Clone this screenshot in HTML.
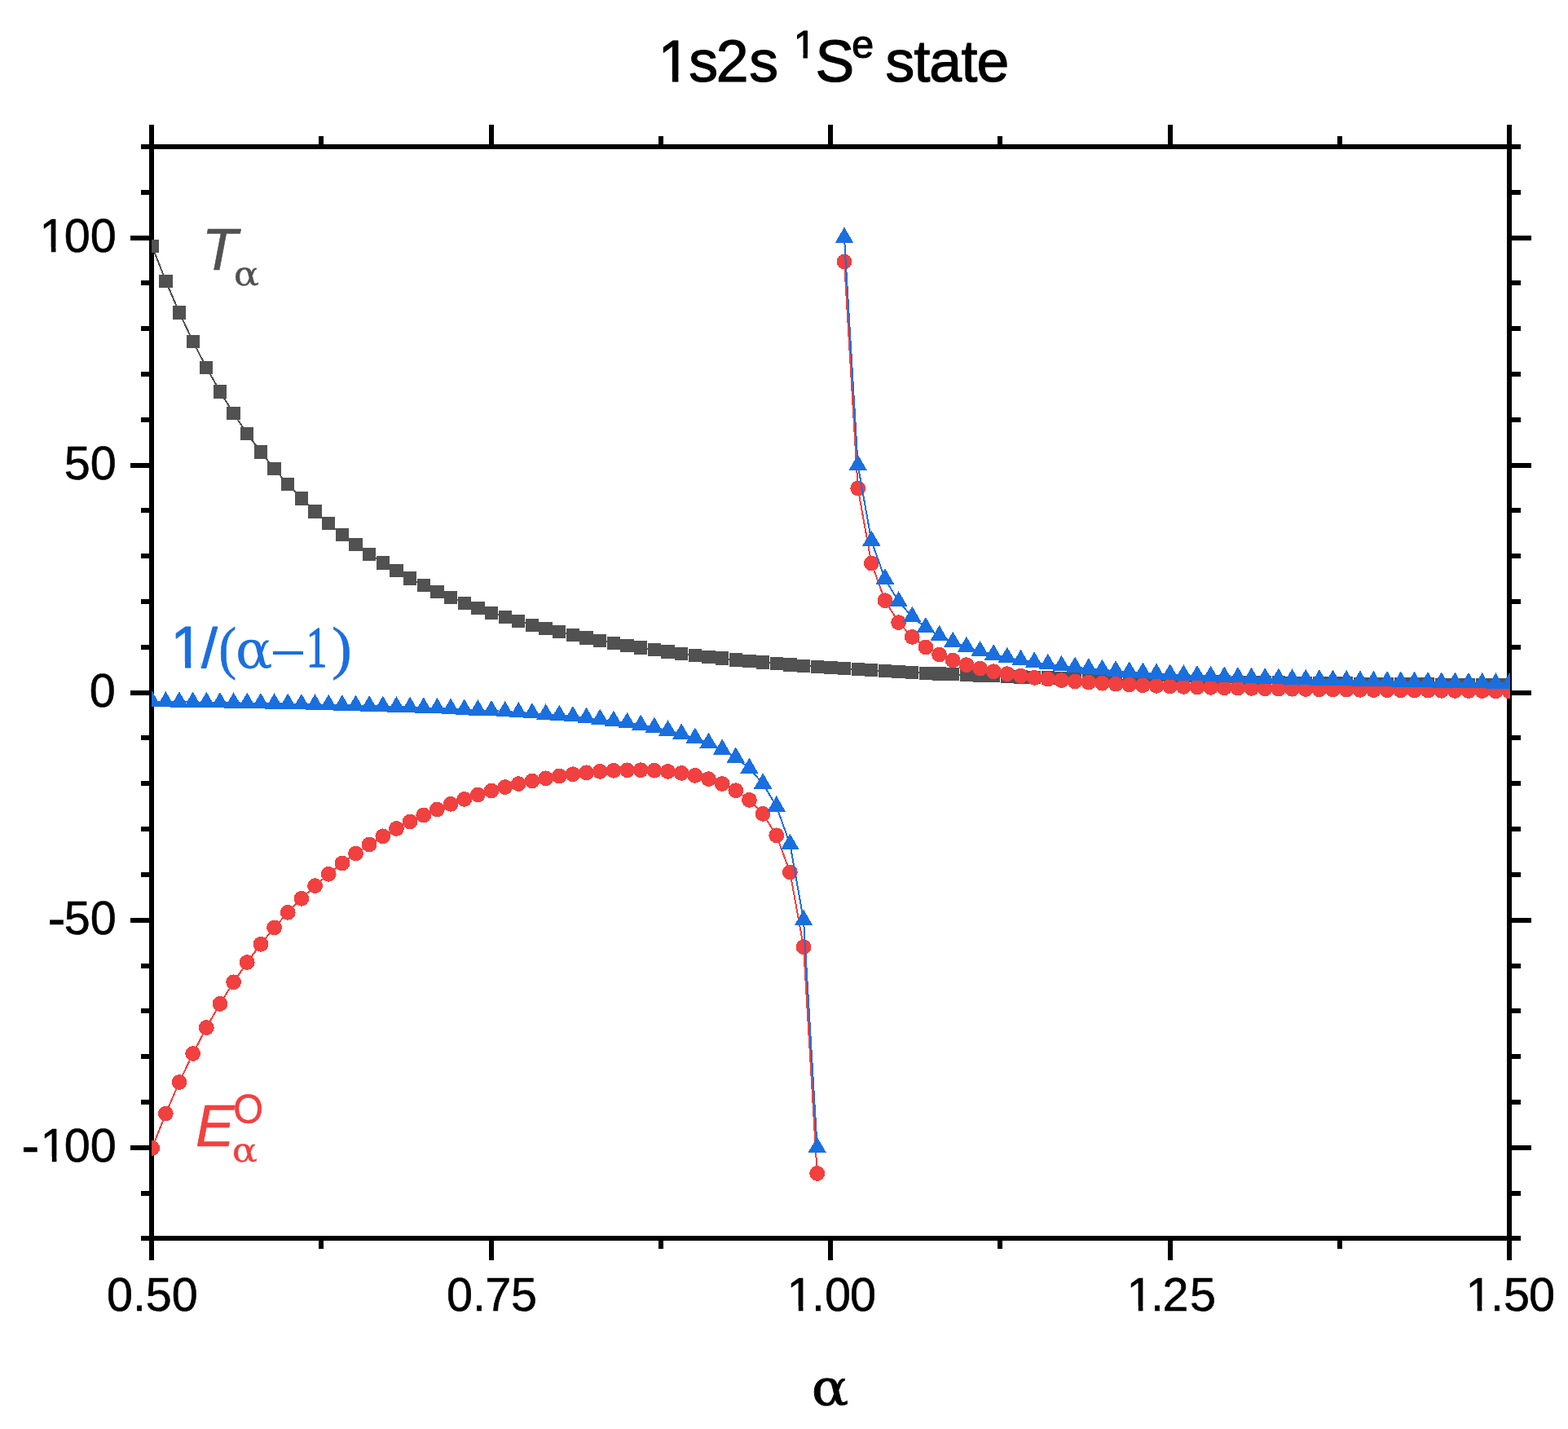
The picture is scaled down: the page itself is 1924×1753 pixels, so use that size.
<!DOCTYPE html>
<html lang="en"><head><meta charset="utf-8"><title>1s2s 1Se state</title>
<style>html,body{margin:0;padding:0;background:#fff}body{width:1924px;height:1753px;overflow:hidden}svg{display:block}text{font-family:"Liberation Sans",sans-serif;stroke-linejoin:round}.se{font-family:"Liberation Serif",serif}.gk{font-family:"DejaVu Serif","Liberation Serif",serif}.it{font-style:italic}</style></head><body>
<svg width="1924" height="1753" viewBox="0 0 1924 1753" role="img" aria-label="1s2s 1Se state">
<rect width="1924" height="1753" fill="#fff"/>
<defs><clipPath id="c"><rect x="186" y="177" width="1667" height="1345"/></clipPath></defs>
<g fill="#000" shape-rendering="crispEdges">
<rect x="183" y="153" width="6" height="1393"/>
<rect x="1849" y="153" width="6" height="1393"/>
<rect x="173" y="177" width="1693" height="6"/>
<rect x="173" y="1516" width="1693" height="6"/>
<rect x="173" y="177" width="13" height="6"/>
<rect x="1852" y="177" width="14" height="6"/>
<rect x="173" y="233" width="13" height="6"/>
<rect x="1852" y="233" width="14" height="6"/>
<rect x="160" y="289" width="26" height="6"/>
<rect x="1852" y="289" width="27" height="6"/>
<rect x="173" y="344" width="13" height="6"/>
<rect x="1852" y="344" width="14" height="6"/>
<rect x="173" y="400" width="13" height="6"/>
<rect x="1852" y="400" width="14" height="6"/>
<rect x="173" y="456" width="13" height="6"/>
<rect x="1852" y="456" width="14" height="6"/>
<rect x="173" y="512" width="13" height="6"/>
<rect x="1852" y="512" width="14" height="6"/>
<rect x="160" y="568" width="26" height="6"/>
<rect x="1852" y="568" width="27" height="6"/>
<rect x="173" y="623" width="13" height="6"/>
<rect x="1852" y="623" width="14" height="6"/>
<rect x="173" y="679" width="13" height="6"/>
<rect x="1852" y="679" width="14" height="6"/>
<rect x="173" y="735" width="13" height="6"/>
<rect x="1852" y="735" width="14" height="6"/>
<rect x="173" y="791" width="13" height="6"/>
<rect x="1852" y="791" width="14" height="6"/>
<rect x="160" y="847" width="26" height="6"/>
<rect x="1852" y="847" width="27" height="6"/>
<rect x="173" y="902" width="13" height="6"/>
<rect x="1852" y="902" width="14" height="6"/>
<rect x="173" y="958" width="13" height="6"/>
<rect x="1852" y="958" width="14" height="6"/>
<rect x="173" y="1014" width="13" height="6"/>
<rect x="1852" y="1014" width="14" height="6"/>
<rect x="173" y="1070" width="13" height="6"/>
<rect x="1852" y="1070" width="14" height="6"/>
<rect x="160" y="1126" width="26" height="6"/>
<rect x="1852" y="1126" width="27" height="6"/>
<rect x="173" y="1182" width="13" height="6"/>
<rect x="1852" y="1182" width="14" height="6"/>
<rect x="173" y="1237" width="13" height="6"/>
<rect x="1852" y="1237" width="14" height="6"/>
<rect x="173" y="1293" width="13" height="6"/>
<rect x="1852" y="1293" width="14" height="6"/>
<rect x="173" y="1349" width="13" height="6"/>
<rect x="1852" y="1349" width="14" height="6"/>
<rect x="160" y="1405" width="26" height="6"/>
<rect x="1852" y="1405" width="27" height="6"/>
<rect x="173" y="1461" width="13" height="6"/>
<rect x="1852" y="1461" width="14" height="6"/>
<rect x="173" y="1516" width="13" height="6"/>
<rect x="1852" y="1516" width="14" height="6"/>
<rect x="183" y="153" width="6" height="27"/>
<rect x="183" y="1519" width="6" height="27"/>
<rect x="391" y="167" width="6" height="13"/>
<rect x="391" y="1519" width="6" height="13"/>
<rect x="600" y="153" width="6" height="27"/>
<rect x="600" y="1519" width="6" height="27"/>
<rect x="808" y="167" width="6" height="13"/>
<rect x="808" y="1519" width="6" height="13"/>
<rect x="1016" y="153" width="6" height="27"/>
<rect x="1016" y="1519" width="6" height="27"/>
<rect x="1224" y="167" width="6" height="13"/>
<rect x="1224" y="1519" width="6" height="13"/>
<rect x="1433" y="153" width="6" height="27"/>
<rect x="1433" y="1519" width="6" height="27"/>
<rect x="1641" y="167" width="6" height="13"/>
<rect x="1641" y="1519" width="6" height="13"/>
<rect x="1849" y="153" width="6" height="27"/>
<rect x="1849" y="1519" width="6" height="27"/>
</g>
<g clip-path="url(#c)" shape-rendering="crispEdges">
<polyline fill="none" stroke="#515151" stroke-width="2.0" points="186.7,302.08 203.35,344.67 220.01,383.42 236.66,418.74 253.31,450.95 269.97,480.36 286.62,507.25 303.27,531.85 319.92,554.38 336.58,575.04 353.23,594 369.88,611.42 386.54,627.44 403.19,642.18 419.84,655.75 436.5,668.26 453.15,679.81 469.8,690.47 486.45,700.32 503.11,709.44 519.76,717.87 536.41,725.69 553.07,732.93 569.72,739.65 586.37,745.89 603.02,751.69 619.68,757.08 636.33,762.1 652.98,766.78 669.64,771.13 686.29,775.19 702.94,778.98 719.6,782.52 736.25,785.83 752.9,788.93 769.55,791.82 786.21,794.54 802.86,797.08 819.51,799.47 836.17,801.7 852.82,803.81 869.47,805.78 886.13,807.64 902.78,809.39 919.43,811.04 936.08,812.59 952.74,814.05 969.39,815.44 986.04,816.74 1002.7,817.97 1019.35,819.14 1036,820.24 1052.66,821.29 1069.31,822.28 1085.96,823.21 1102.62,824.1 1119.27,824.95 1135.92,825.75 1152.57,826.51 1169.23,827.24 1185.88,827.92 1202.53,828.58 1219.19,829.2 1235.84,829.8 1252.49,830.37 1269.14,830.91 1285.8,831.42 1302.45,831.92 1319.1,832.39 1335.76,832.84 1352.41,833.27 1369.06,833.68 1385.72,834.07 1402.37,834.45 1419.02,834.81 1435.67,835.16 1452.33,835.49 1468.98,835.8 1485.63,836.11 1502.29,836.4 1518.94,836.68 1535.59,836.94 1552.25,837.2 1568.9,837.44 1585.55,837.68 1602.21,837.91 1618.86,838.12 1635.51,838.33 1652.16,838.53 1668.82,838.72 1685.47,838.9 1702.12,839.08 1718.78,839.25 1735.43,839.41 1752.08,839.56 1768.73,839.71 1785.39,839.85 1802.04,839.99 1818.69,840.12 1835.35,840.25 1852,840.37"/>
<g fill="#515151">
<rect x="178.55" y="293.93" width="16.3" height="16.3"/>
<rect x="195.2" y="336.52" width="16.3" height="16.3"/>
<rect x="211.86" y="375.27" width="16.3" height="16.3"/>
<rect x="228.51" y="410.59" width="16.3" height="16.3"/>
<rect x="245.16" y="442.8" width="16.3" height="16.3"/>
<rect x="261.82" y="472.21" width="16.3" height="16.3"/>
<rect x="278.47" y="499.1" width="16.3" height="16.3"/>
<rect x="295.12" y="523.7" width="16.3" height="16.3"/>
<rect x="311.77" y="546.23" width="16.3" height="16.3"/>
<rect x="328.43" y="566.89" width="16.3" height="16.3"/>
<rect x="345.08" y="585.85" width="16.3" height="16.3"/>
<rect x="361.73" y="603.27" width="16.3" height="16.3"/>
<rect x="378.39" y="619.29" width="16.3" height="16.3"/>
<rect x="395.04" y="634.03" width="16.3" height="16.3"/>
<rect x="411.69" y="647.6" width="16.3" height="16.3"/>
<rect x="428.35" y="660.11" width="16.3" height="16.3"/>
<rect x="445" y="671.66" width="16.3" height="16.3"/>
<rect x="461.65" y="682.32" width="16.3" height="16.3"/>
<rect x="478.3" y="692.17" width="16.3" height="16.3"/>
<rect x="494.96" y="701.29" width="16.3" height="16.3"/>
<rect x="511.61" y="709.72" width="16.3" height="16.3"/>
<rect x="528.26" y="717.54" width="16.3" height="16.3"/>
<rect x="544.92" y="724.78" width="16.3" height="16.3"/>
<rect x="561.57" y="731.5" width="16.3" height="16.3"/>
<rect x="578.22" y="737.74" width="16.3" height="16.3"/>
<rect x="594.88" y="743.54" width="16.3" height="16.3"/>
<rect x="611.53" y="748.93" width="16.3" height="16.3"/>
<rect x="628.18" y="753.95" width="16.3" height="16.3"/>
<rect x="644.83" y="758.63" width="16.3" height="16.3"/>
<rect x="661.49" y="762.98" width="16.3" height="16.3"/>
<rect x="678.14" y="767.04" width="16.3" height="16.3"/>
<rect x="694.79" y="770.83" width="16.3" height="16.3"/>
<rect x="711.45" y="774.37" width="16.3" height="16.3"/>
<rect x="728.1" y="777.68" width="16.3" height="16.3"/>
<rect x="744.75" y="780.78" width="16.3" height="16.3"/>
<rect x="761.4" y="783.67" width="16.3" height="16.3"/>
<rect x="778.06" y="786.39" width="16.3" height="16.3"/>
<rect x="794.71" y="788.93" width="16.3" height="16.3"/>
<rect x="811.36" y="791.32" width="16.3" height="16.3"/>
<rect x="828.02" y="793.55" width="16.3" height="16.3"/>
<rect x="844.67" y="795.66" width="16.3" height="16.3"/>
<rect x="861.32" y="797.63" width="16.3" height="16.3"/>
<rect x="877.98" y="799.49" width="16.3" height="16.3"/>
<rect x="894.63" y="801.24" width="16.3" height="16.3"/>
<rect x="911.28" y="802.89" width="16.3" height="16.3"/>
<rect x="927.93" y="804.44" width="16.3" height="16.3"/>
<rect x="944.59" y="805.9" width="16.3" height="16.3"/>
<rect x="961.24" y="807.29" width="16.3" height="16.3"/>
<rect x="977.89" y="808.59" width="16.3" height="16.3"/>
<rect x="994.55" y="809.82" width="16.3" height="16.3"/>
<rect x="1011.2" y="810.99" width="16.3" height="16.3"/>
<rect x="1027.85" y="812.09" width="16.3" height="16.3"/>
<rect x="1044.51" y="813.14" width="16.3" height="16.3"/>
<rect x="1061.16" y="814.13" width="16.3" height="16.3"/>
<rect x="1077.81" y="815.06" width="16.3" height="16.3"/>
<rect x="1094.46" y="815.95" width="16.3" height="16.3"/>
<rect x="1111.12" y="816.8" width="16.3" height="16.3"/>
<rect x="1127.77" y="817.6" width="16.3" height="16.3"/>
<rect x="1144.42" y="818.36" width="16.3" height="16.3"/>
<rect x="1161.08" y="819.09" width="16.3" height="16.3"/>
<rect x="1177.73" y="819.77" width="16.3" height="16.3"/>
<rect x="1194.38" y="820.43" width="16.3" height="16.3"/>
<rect x="1211.04" y="821.05" width="16.3" height="16.3"/>
<rect x="1227.69" y="821.65" width="16.3" height="16.3"/>
<rect x="1244.34" y="822.22" width="16.3" height="16.3"/>
<rect x="1260.99" y="822.76" width="16.3" height="16.3"/>
<rect x="1277.65" y="823.27" width="16.3" height="16.3"/>
<rect x="1294.3" y="823.77" width="16.3" height="16.3"/>
<rect x="1310.95" y="824.24" width="16.3" height="16.3"/>
<rect x="1327.61" y="824.69" width="16.3" height="16.3"/>
<rect x="1344.26" y="825.12" width="16.3" height="16.3"/>
<rect x="1360.91" y="825.53" width="16.3" height="16.3"/>
<rect x="1377.57" y="825.92" width="16.3" height="16.3"/>
<rect x="1394.22" y="826.3" width="16.3" height="16.3"/>
<rect x="1410.87" y="826.66" width="16.3" height="16.3"/>
<rect x="1427.52" y="827.01" width="16.3" height="16.3"/>
<rect x="1444.18" y="827.34" width="16.3" height="16.3"/>
<rect x="1460.83" y="827.65" width="16.3" height="16.3"/>
<rect x="1477.48" y="827.96" width="16.3" height="16.3"/>
<rect x="1494.14" y="828.25" width="16.3" height="16.3"/>
<rect x="1510.79" y="828.53" width="16.3" height="16.3"/>
<rect x="1527.44" y="828.79" width="16.3" height="16.3"/>
<rect x="1544.1" y="829.05" width="16.3" height="16.3"/>
<rect x="1560.75" y="829.29" width="16.3" height="16.3"/>
<rect x="1577.4" y="829.53" width="16.3" height="16.3"/>
<rect x="1594.06" y="829.76" width="16.3" height="16.3"/>
<rect x="1610.71" y="829.97" width="16.3" height="16.3"/>
<rect x="1627.36" y="830.18" width="16.3" height="16.3"/>
<rect x="1644.01" y="830.38" width="16.3" height="16.3"/>
<rect x="1660.67" y="830.57" width="16.3" height="16.3"/>
<rect x="1677.32" y="830.75" width="16.3" height="16.3"/>
<rect x="1693.97" y="830.93" width="16.3" height="16.3"/>
<rect x="1710.63" y="831.1" width="16.3" height="16.3"/>
<rect x="1727.28" y="831.26" width="16.3" height="16.3"/>
<rect x="1743.93" y="831.41" width="16.3" height="16.3"/>
<rect x="1760.58" y="831.56" width="16.3" height="16.3"/>
<rect x="1777.24" y="831.7" width="16.3" height="16.3"/>
<rect x="1793.89" y="831.84" width="16.3" height="16.3"/>
<rect x="1810.54" y="831.97" width="16.3" height="16.3"/>
<rect x="1827.2" y="832.1" width="16.3" height="16.3"/>
<rect x="1843.85" y="832.22" width="16.3" height="16.3"/>
</g></g>
<g clip-path="url(#c)" shape-rendering="crispEdges">
<polyline fill="none" stroke="#f14040" stroke-width="2.0" points="186.7,1408.45 203.35,1366.09 220.01,1327.57 236.66,1292.51 253.31,1260.56 269.97,1231.41 286.62,1204.81 303.27,1180.5 319.92,1158.28 336.58,1137.94 353.23,1119.32 369.88,1102.26 386.54,1086.62 403.19,1072.28 419.84,1059.12 436.5,1047.05 453.15,1035.97 469.8,1025.81 486.45,1016.49 503.11,1007.94 519.76,1000.1 536.41,992.93 553.07,986.37 569.72,980.39 586.37,974.94 603.02,970 619.68,965.54 636.33,961.53 652.98,957.96 669.64,954.81 686.29,952.08 702.94,949.76 719.6,947.85 736.25,946.36 752.9,945.32 769.55,944.75 786.21,944.69 802.86,945.22 819.51,946.41 836.17,948.4 852.82,951.37 869.47,955.6 886.13,961.49 902.78,969.7 919.43,981.34 936.08,998.39 952.74,1024.83 969.39,1069.96 986.04,1161.66 1002.7,1439.47"/>
<polyline fill="none" stroke="#f14040" stroke-width="2.0" points="1036,321.06 1052.66,599.05 1069.31,691.07 1085.96,736.64 1102.62,763.65 1119.27,781.41 1135.92,793.9 1152.57,803.1 1169.23,810.13 1185.88,815.64 1202.53,820.06 1219.19,823.66 1235.84,826.64 1252.49,829.14 1269.14,831.26 1285.8,833.07 1302.45,834.62 1319.1,835.98 1335.76,837.16 1352.41,838.2 1369.06,839.12 1385.72,839.93 1402.37,840.66 1419.02,841.31 1435.67,841.89 1452.33,842.42 1468.98,842.9 1485.63,843.33 1502.29,843.73 1518.94,844.09 1535.59,844.42 1552.25,844.73 1568.9,845.01 1585.55,845.28 1602.21,845.52 1618.86,845.75 1635.51,845.96 1652.16,846.15 1668.82,846.34 1685.47,846.51 1702.12,846.68 1718.78,846.83 1735.43,846.98 1752.08,847.12 1768.73,847.26 1785.39,847.38 1802.04,847.51 1818.69,847.62 1835.35,847.73 1852,847.84"/>
<g fill="#f14040">
<circle cx="186.7" cy="1408.45" r="9.4"/>
<circle cx="203.35" cy="1366.09" r="9.4"/>
<circle cx="220.01" cy="1327.57" r="9.4"/>
<circle cx="236.66" cy="1292.51" r="9.4"/>
<circle cx="253.31" cy="1260.56" r="9.4"/>
<circle cx="269.97" cy="1231.41" r="9.4"/>
<circle cx="286.62" cy="1204.81" r="9.4"/>
<circle cx="303.27" cy="1180.5" r="9.4"/>
<circle cx="319.92" cy="1158.28" r="9.4"/>
<circle cx="336.58" cy="1137.94" r="9.4"/>
<circle cx="353.23" cy="1119.32" r="9.4"/>
<circle cx="369.88" cy="1102.26" r="9.4"/>
<circle cx="386.54" cy="1086.62" r="9.4"/>
<circle cx="403.19" cy="1072.28" r="9.4"/>
<circle cx="419.84" cy="1059.12" r="9.4"/>
<circle cx="436.5" cy="1047.05" r="9.4"/>
<circle cx="453.15" cy="1035.97" r="9.4"/>
<circle cx="469.8" cy="1025.81" r="9.4"/>
<circle cx="486.45" cy="1016.49" r="9.4"/>
<circle cx="503.11" cy="1007.94" r="9.4"/>
<circle cx="519.76" cy="1000.1" r="9.4"/>
<circle cx="536.41" cy="992.93" r="9.4"/>
<circle cx="553.07" cy="986.37" r="9.4"/>
<circle cx="569.72" cy="980.39" r="9.4"/>
<circle cx="586.37" cy="974.94" r="9.4"/>
<circle cx="603.02" cy="970" r="9.4"/>
<circle cx="619.68" cy="965.54" r="9.4"/>
<circle cx="636.33" cy="961.53" r="9.4"/>
<circle cx="652.98" cy="957.96" r="9.4"/>
<circle cx="669.64" cy="954.81" r="9.4"/>
<circle cx="686.29" cy="952.08" r="9.4"/>
<circle cx="702.94" cy="949.76" r="9.4"/>
<circle cx="719.6" cy="947.85" r="9.4"/>
<circle cx="736.25" cy="946.36" r="9.4"/>
<circle cx="752.9" cy="945.32" r="9.4"/>
<circle cx="769.55" cy="944.75" r="9.4"/>
<circle cx="786.21" cy="944.69" r="9.4"/>
<circle cx="802.86" cy="945.22" r="9.4"/>
<circle cx="819.51" cy="946.41" r="9.4"/>
<circle cx="836.17" cy="948.4" r="9.4"/>
<circle cx="852.82" cy="951.37" r="9.4"/>
<circle cx="869.47" cy="955.6" r="9.4"/>
<circle cx="886.13" cy="961.49" r="9.4"/>
<circle cx="902.78" cy="969.7" r="9.4"/>
<circle cx="919.43" cy="981.34" r="9.4"/>
<circle cx="936.08" cy="998.39" r="9.4"/>
<circle cx="952.74" cy="1024.83" r="9.4"/>
<circle cx="969.39" cy="1069.96" r="9.4"/>
<circle cx="986.04" cy="1161.66" r="9.4"/>
<circle cx="1002.7" cy="1439.47" r="9.4"/>
<circle cx="1036" cy="321.06" r="9.4"/>
<circle cx="1052.66" cy="599.05" r="9.4"/>
<circle cx="1069.31" cy="691.07" r="9.4"/>
<circle cx="1085.96" cy="736.64" r="9.4"/>
<circle cx="1102.62" cy="763.65" r="9.4"/>
<circle cx="1119.27" cy="781.41" r="9.4"/>
<circle cx="1135.92" cy="793.9" r="9.4"/>
<circle cx="1152.57" cy="803.1" r="9.4"/>
<circle cx="1169.23" cy="810.13" r="9.4"/>
<circle cx="1185.88" cy="815.64" r="9.4"/>
<circle cx="1202.53" cy="820.06" r="9.4"/>
<circle cx="1219.19" cy="823.66" r="9.4"/>
<circle cx="1235.84" cy="826.64" r="9.4"/>
<circle cx="1252.49" cy="829.14" r="9.4"/>
<circle cx="1269.14" cy="831.26" r="9.4"/>
<circle cx="1285.8" cy="833.07" r="9.4"/>
<circle cx="1302.45" cy="834.62" r="9.4"/>
<circle cx="1319.1" cy="835.98" r="9.4"/>
<circle cx="1335.76" cy="837.16" r="9.4"/>
<circle cx="1352.41" cy="838.2" r="9.4"/>
<circle cx="1369.06" cy="839.12" r="9.4"/>
<circle cx="1385.72" cy="839.93" r="9.4"/>
<circle cx="1402.37" cy="840.66" r="9.4"/>
<circle cx="1419.02" cy="841.31" r="9.4"/>
<circle cx="1435.67" cy="841.89" r="9.4"/>
<circle cx="1452.33" cy="842.42" r="9.4"/>
<circle cx="1468.98" cy="842.9" r="9.4"/>
<circle cx="1485.63" cy="843.33" r="9.4"/>
<circle cx="1502.29" cy="843.73" r="9.4"/>
<circle cx="1518.94" cy="844.09" r="9.4"/>
<circle cx="1535.59" cy="844.42" r="9.4"/>
<circle cx="1552.25" cy="844.73" r="9.4"/>
<circle cx="1568.9" cy="845.01" r="9.4"/>
<circle cx="1585.55" cy="845.28" r="9.4"/>
<circle cx="1602.21" cy="845.52" r="9.4"/>
<circle cx="1618.86" cy="845.75" r="9.4"/>
<circle cx="1635.51" cy="845.96" r="9.4"/>
<circle cx="1652.16" cy="846.15" r="9.4"/>
<circle cx="1668.82" cy="846.34" r="9.4"/>
<circle cx="1685.47" cy="846.51" r="9.4"/>
<circle cx="1702.12" cy="846.68" r="9.4"/>
<circle cx="1718.78" cy="846.83" r="9.4"/>
<circle cx="1735.43" cy="846.98" r="9.4"/>
<circle cx="1752.08" cy="847.12" r="9.4"/>
<circle cx="1768.73" cy="847.26" r="9.4"/>
<circle cx="1785.39" cy="847.38" r="9.4"/>
<circle cx="1802.04" cy="847.51" r="9.4"/>
<circle cx="1818.69" cy="847.62" r="9.4"/>
<circle cx="1835.35" cy="847.73" r="9.4"/>
<circle cx="1852" cy="847.84" r="9.4"/>
</g></g>
<g clip-path="url(#c)" shape-rendering="crispEdges">
<polyline fill="none" stroke="#1a6fdf" stroke-width="2.0" points="186.7,860.85 203.35,861.07 220.01,861.31 236.66,861.56 253.31,861.82 269.97,862.09 286.62,862.37 303.27,862.66 319.92,862.97 336.58,863.3 353.23,863.64 369.88,863.99 386.54,864.37 403.19,864.77 419.84,865.19 436.5,865.63 453.15,866.1 469.8,866.6 486.45,867.12 503.11,867.69 519.76,868.29 536.41,868.93 553.07,869.62 569.72,870.35 586.37,871.15 603.02,872.01 619.68,872.94 636.33,873.95 652.98,875.05 669.64,876.26 686.29,877.59 702.94,879.06 719.6,880.69 736.25,882.51 752.9,884.56 769.55,886.89 786.21,889.55 802.86,892.61 819.51,896.19 836.17,900.42 852.82,905.49 869.47,911.69 886.13,919.44 902.78,929.41 919.43,942.7 936.08,961.3 952.74,989.2 969.39,1035.71 986.04,1128.72 1002.7,1407.76"/>
<polyline fill="none" stroke="#1a6fdf" stroke-width="2.0" points="1036,291.61 1052.66,570.65 1069.31,663.66 1085.96,710.17 1102.62,738.07 1119.27,756.67 1135.92,769.96 1152.57,779.93 1169.23,787.68 1185.88,793.88 1202.53,798.95 1219.19,803.18 1235.84,806.76 1252.49,809.82 1269.14,812.48 1285.8,814.81 1302.45,816.86 1319.1,818.68 1335.76,820.31 1352.41,821.78 1369.06,823.11 1385.72,824.32 1402.37,825.42 1419.02,826.43 1435.67,827.36 1452.33,828.22 1468.98,829.02 1485.63,829.75 1502.29,830.44 1518.94,831.08 1535.59,831.68 1552.25,832.25 1568.9,832.77 1585.55,833.27 1602.21,833.74 1618.86,834.18 1635.51,834.6 1652.16,835 1668.82,835.38 1685.47,835.73 1702.12,836.07 1718.78,836.4 1735.43,836.71 1752.08,837 1768.73,837.28 1785.39,837.55 1802.04,837.81 1818.69,838.06 1835.35,838.3 1852,838.52"/>
<g fill="#1a6fdf">
<path d="M186.7 847.75L198 867.25L175.4 867.25Z"/>
<path d="M203.35 847.97L214.65 867.47L192.05 867.47Z"/>
<path d="M220.01 848.21L231.31 867.71L208.71 867.71Z"/>
<path d="M236.66 848.46L247.96 867.96L225.36 867.96Z"/>
<path d="M253.31 848.72L264.61 868.22L242.01 868.22Z"/>
<path d="M269.97 848.99L281.27 868.49L258.67 868.49Z"/>
<path d="M286.62 849.27L297.92 868.77L275.32 868.77Z"/>
<path d="M303.27 849.56L314.57 869.06L291.97 869.06Z"/>
<path d="M319.92 849.87L331.22 869.37L308.62 869.37Z"/>
<path d="M336.58 850.2L347.88 869.7L325.28 869.7Z"/>
<path d="M353.23 850.54L364.53 870.04L341.93 870.04Z"/>
<path d="M369.88 850.89L381.18 870.39L358.58 870.39Z"/>
<path d="M386.54 851.27L397.84 870.77L375.24 870.77Z"/>
<path d="M403.19 851.67L414.49 871.17L391.89 871.17Z"/>
<path d="M419.84 852.09L431.14 871.59L408.54 871.59Z"/>
<path d="M436.5 852.53L447.8 872.03L425.19 872.03Z"/>
<path d="M453.15 853L464.45 872.5L441.85 872.5Z"/>
<path d="M469.8 853.5L481.1 873L458.5 873Z"/>
<path d="M486.45 854.02L497.75 873.52L475.15 873.52Z"/>
<path d="M503.11 854.59L514.41 874.09L491.81 874.09Z"/>
<path d="M519.76 855.19L531.06 874.69L508.46 874.69Z"/>
<path d="M536.41 855.83L547.71 875.33L525.11 875.33Z"/>
<path d="M553.07 856.52L564.37 876.02L541.77 876.02Z"/>
<path d="M569.72 857.25L581.02 876.75L558.42 876.75Z"/>
<path d="M586.37 858.05L597.67 877.55L575.07 877.55Z"/>
<path d="M603.02 858.91L614.32 878.41L591.73 878.41Z"/>
<path d="M619.68 859.84L630.98 879.34L608.38 879.34Z"/>
<path d="M636.33 860.85L647.63 880.35L625.03 880.35Z"/>
<path d="M652.98 861.95L664.28 881.45L641.68 881.45Z"/>
<path d="M669.64 863.16L680.94 882.66L658.34 882.66Z"/>
<path d="M686.29 864.49L697.59 883.99L674.99 883.99Z"/>
<path d="M702.94 865.96L714.24 885.46L691.64 885.46Z"/>
<path d="M719.6 867.59L730.9 887.09L708.3 887.09Z"/>
<path d="M736.25 869.41L747.55 888.91L724.95 888.91Z"/>
<path d="M752.9 871.46L764.2 890.96L741.6 890.96Z"/>
<path d="M769.55 873.79L780.85 893.29L758.25 893.29Z"/>
<path d="M786.21 876.45L797.51 895.95L774.91 895.95Z"/>
<path d="M802.86 879.51L814.16 899.01L791.56 899.01Z"/>
<path d="M819.51 883.09L830.81 902.59L808.21 902.59Z"/>
<path d="M836.17 887.32L847.47 906.82L824.87 906.82Z"/>
<path d="M852.82 892.39L864.12 911.89L841.52 911.89Z"/>
<path d="M869.47 898.59L880.77 918.09L858.17 918.09Z"/>
<path d="M886.13 906.34L897.43 925.84L874.83 925.84Z"/>
<path d="M902.78 916.31L914.08 935.81L891.48 935.81Z"/>
<path d="M919.43 929.6L930.73 949.1L908.13 949.1Z"/>
<path d="M936.08 948.2L947.38 967.7L924.78 967.7Z"/>
<path d="M952.74 976.1L964.04 995.6L941.44 995.6Z"/>
<path d="M969.39 1022.61L980.69 1042.11L958.09 1042.11Z"/>
<path d="M986.04 1115.62L997.34 1135.12L974.74 1135.12Z"/>
<path d="M1002.7 1394.66L1014 1414.16L991.4 1414.16Z"/>
<path d="M1036 278.51L1047.3 298.01L1024.7 298.01Z"/>
<path d="M1052.66 557.55L1063.96 577.05L1041.36 577.05Z"/>
<path d="M1069.31 650.56L1080.61 670.06L1058.01 670.06Z"/>
<path d="M1085.96 697.07L1097.26 716.57L1074.66 716.57Z"/>
<path d="M1102.62 724.97L1113.91 744.47L1091.32 744.47Z"/>
<path d="M1119.27 743.57L1130.57 763.07L1107.97 763.07Z"/>
<path d="M1135.92 756.86L1147.22 776.36L1124.62 776.36Z"/>
<path d="M1152.57 766.83L1163.87 786.33L1141.27 786.33Z"/>
<path d="M1169.23 774.58L1180.53 794.08L1157.93 794.08Z"/>
<path d="M1185.88 780.78L1197.18 800.28L1174.58 800.28Z"/>
<path d="M1202.53 785.85L1213.83 805.35L1191.23 805.35Z"/>
<path d="M1219.19 790.08L1230.49 809.58L1207.89 809.58Z"/>
<path d="M1235.84 793.66L1247.14 813.16L1224.54 813.16Z"/>
<path d="M1252.49 796.72L1263.79 816.22L1241.19 816.22Z"/>
<path d="M1269.14 799.38L1280.44 818.88L1257.84 818.88Z"/>
<path d="M1285.8 801.71L1297.1 821.21L1274.5 821.21Z"/>
<path d="M1302.45 803.76L1313.75 823.26L1291.15 823.26Z"/>
<path d="M1319.1 805.58L1330.4 825.08L1307.8 825.08Z"/>
<path d="M1335.76 807.21L1347.06 826.71L1324.46 826.71Z"/>
<path d="M1352.41 808.68L1363.71 828.18L1341.11 828.18Z"/>
<path d="M1369.06 810.01L1380.36 829.51L1357.76 829.51Z"/>
<path d="M1385.72 811.22L1397.02 830.72L1374.42 830.72Z"/>
<path d="M1402.37 812.32L1413.67 831.82L1391.07 831.82Z"/>
<path d="M1419.02 813.33L1430.32 832.83L1407.72 832.83Z"/>
<path d="M1435.67 814.26L1446.97 833.76L1424.38 833.76Z"/>
<path d="M1452.33 815.12L1463.63 834.62L1441.03 834.62Z"/>
<path d="M1468.98 815.92L1480.28 835.42L1457.68 835.42Z"/>
<path d="M1485.63 816.65L1496.93 836.15L1474.33 836.15Z"/>
<path d="M1502.29 817.34L1513.59 836.84L1490.99 836.84Z"/>
<path d="M1518.94 817.98L1530.24 837.48L1507.64 837.48Z"/>
<path d="M1535.59 818.58L1546.89 838.08L1524.29 838.08Z"/>
<path d="M1552.25 819.15L1563.55 838.65L1540.95 838.65Z"/>
<path d="M1568.9 819.67L1580.2 839.17L1557.6 839.17Z"/>
<path d="M1585.55 820.17L1596.85 839.67L1574.25 839.67Z"/>
<path d="M1602.21 820.64L1613.51 840.14L1590.91 840.14Z"/>
<path d="M1618.86 821.08L1630.16 840.58L1607.56 840.58Z"/>
<path d="M1635.51 821.5L1646.81 841L1624.21 841Z"/>
<path d="M1652.16 821.9L1663.46 841.4L1640.86 841.4Z"/>
<path d="M1668.82 822.28L1680.12 841.78L1657.52 841.78Z"/>
<path d="M1685.47 822.63L1696.77 842.13L1674.17 842.13Z"/>
<path d="M1702.12 822.97L1713.42 842.47L1690.82 842.47Z"/>
<path d="M1718.78 823.3L1730.08 842.8L1707.48 842.8Z"/>
<path d="M1735.43 823.61L1746.73 843.11L1724.13 843.11Z"/>
<path d="M1752.08 823.9L1763.38 843.4L1740.78 843.4Z"/>
<path d="M1768.73 824.18L1780.03 843.68L1757.43 843.68Z"/>
<path d="M1785.39 824.45L1796.69 843.95L1774.09 843.95Z"/>
<path d="M1802.04 824.71L1813.34 844.21L1790.74 844.21Z"/>
<path d="M1818.69 824.96L1829.99 844.46L1807.39 844.46Z"/>
<path d="M1835.35 825.2L1846.65 844.7L1824.05 844.7Z"/>
<path d="M1852 825.42L1863.3 844.92L1840.7 844.92Z"/>
</g></g>
<g stroke-width="0.6">
<text x="807.44 845.36 878.82 919.36 919.36 973.88 1000.38 1045.33 1045.33 1086.45 1121.53 1140.28 1179.43 1198.38" y="100.1 100.1 100.1 100.1 100.1 71.1 100.1 71.1 71.1 100.1 100.1 100.1 100.1 100.1" font-size="71.5" stroke-width="1.2" style="fill:#000;stroke:#000">1s2s <tspan font-size="48.3">1</tspan>S<tspan font-size="48.3">e</tspan> state</text>
<text x="48.59 78.8 110.8" y="309" font-size="57.5" style="fill:#000;stroke:#000">100</text>
<text x="78.8 110.8" y="588" font-size="57.5" style="fill:#000;stroke:#000">50</text>
<text x="109.8" y="867" font-size="57.5" style="fill:#000;stroke:#000">0</text>
<text x="58.42 78.8 110.8" y="1149.2 1146 1146" font-size="57.5" style="fill:#000;stroke:#000"><tspan font-size="66.12">-</tspan>50</text>
<text x="26.32 49.59 78.8 110.8" y="1428.2 1425 1425 1425" font-size="57.5" style="fill:#000;stroke:#000"><tspan font-size="66.12">-</tspan>100</text>
<text x="130.9 163.07 178.8 210.8" y="1608.1" font-size="57.5" style="fill:#000;stroke:#000">0.50</text>
<text x="547.9 580.12 595.22 627" y="1608.1" font-size="57.5" style="fill:#000;stroke:#000">0.75</text>
<text x="965.59 996.02 1011.9 1042.9" y="1608.1" font-size="57.5" style="fill:#000;stroke:#000">1.00</text>
<text x="1382.59 1412.03 1426.42 1460" y="1608.1" font-size="57.5" style="fill:#000;stroke:#000">1.25</text>
<text x="1798.54 1829.03 1844.9 1875.9" y="1608.1" font-size="57.5" style="fill:#000;stroke:#000">1.50</text>
<g style="fill:#000;stroke:#000">
<text class="gk" transform="translate(995.87 1724.13) scale(1.0930 1)" font-size="61.83" stroke-width="0.7">α</text>
</g>
<g style="fill:#515151;stroke:#515151">
<text class="it" transform="translate(247.72 330.6) scale(0.9982 1)" font-size="71.59">T</text><text class="gk" transform="translate(286.82 350.43) scale(1.1164 1)" font-size="41.65" stroke-width="0.3">α</text>
</g>
<g style="fill:#1a6fdf;stroke:#1a6fdf">
<text x="209.3" y="819" font-size="72" stroke-width="1.0">1</text><text transform="translate(247.3 818.71) scale(1.0154 1)" font-size="69.12" stroke-width="1.0">/</text><text class="se" transform="translate(268.24 818.62) scale(0.9053 1)" font-size="72.78">(</text><text class="gk" transform="translate(288.71 820.45) scale(1.0503 1)" font-size="64.59" stroke-width="0.0">α</text><text class="se" transform="translate(331.12 828.01) scale(0.9704 1)" font-size="82" stroke-width="0">−</text><text class="se" transform="translate(375.67 818.3) scale(0.7229 1)" font-size="71.15" stroke-width="1.4">1</text><text class="se" transform="translate(406.96 819.45) scale(1.0411 1)" font-size="71.67">)</text>
</g>
<g style="fill:#f14040;stroke:#f14040">
<text class="it" transform="translate(240.06 1405.6) scale(1.0003 1)" font-size="71.45">E</text><text transform="translate(286.17 1378.41) scale(0.9622 1)" font-size="49.15">O</text><text class="gk" transform="translate(284.84 1425.43) scale(1.1084 1)" font-size="41.65" stroke-width="0.3">α</text>
</g>
</g>
<g fill="#fff">
<rect x="811.2" y="92.64" width="13.69" height="9.36"/><rect x="832.35" y="92.64" width="12.98" height="9.36"/>
<rect x="975.9" y="65.38" width="9.57" height="7.62"/><rect x="990.9" y="65.38" width="9.09" height="7.62"/>
<rect x="51.6" y="302.89" width="11.21" height="7.71"/><rect x="68.44" y="302.89" width="10.63" height="7.71"/>
<rect x="52.6" y="1418.89" width="11.21" height="7.71"/><rect x="69.44" y="1418.89" width="10.63" height="7.71"/>
<rect x="968.6" y="1601.99" width="11.21" height="7.71"/><rect x="985.44" y="1601.99" width="10.63" height="7.71"/>
<rect x="1385.6" y="1601.99" width="11.21" height="7.71"/><rect x="1402.44" y="1601.99" width="10.63" height="7.71"/>
<rect x="1801.55" y="1601.99" width="11.21" height="7.71"/><rect x="1818.39" y="1601.99" width="10.63" height="7.71"/>
<rect x="213.2" y="811.6" width="13.78" height="9.2"/><rect x="234.28" y="811.6" width="11.72" height="9.2"/>
</g>
</svg></body></html>
